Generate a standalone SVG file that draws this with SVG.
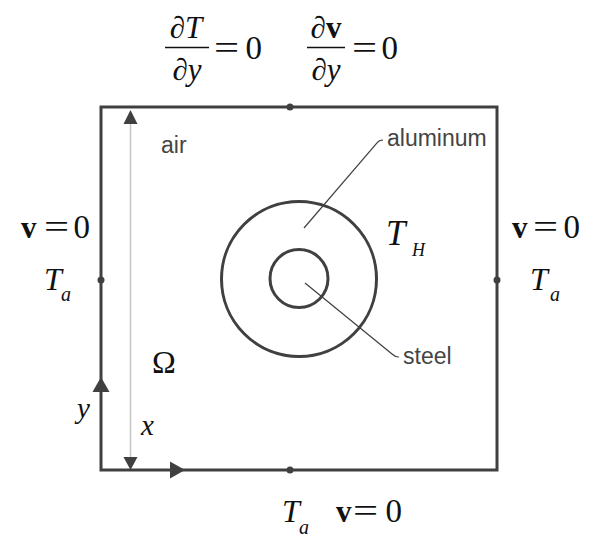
<svg xmlns="http://www.w3.org/2000/svg" width="596" height="540" viewBox="0 0 596 540">
<style>
.m{font-family:"Liberation Serif","Times New Roman",serif;fill:#111}
.i{font-style:italic}
.b{font-weight:bold}
.lbl{font-family:"Liberation Sans",Arial,sans-serif;font-size:23px;fill:#444}
.edge{fill:none;stroke:#404040;stroke-width:3}
.lead{fill:none;stroke:#404040;stroke-width:1.2}
.dot{fill:#404040}
.tri{fill:#404040}
.eq{font-family:"Liberation Serif","Times New Roman",serif;fill:#111;font-size:33px}
</style>
<rect width="596" height="540" fill="#fff"/>
<g id="domain">
<rect class="edge" x="101" y="107" width="396" height="363"/>
<circle class="dot" cx="290" cy="107" r="3.5"/>
<circle class="dot" cx="101" cy="280" r="3.5"/>
<circle class="dot" cx="497" cy="280" r="3.5"/>
<circle class="dot" cx="290" cy="470" r="3.5"/>
</g>
<g id="aluminum">
<circle class="edge" cx="299" cy="279" r="77.5" stroke-width="2.8"/>
</g>
<g id="steel">
<circle class="edge" cx="299" cy="278.5" r="29" stroke-width="2.8"/>
</g>
<g id="connectors">
<line x1="130.5" y1="118" x2="130.5" y2="460" stroke="#c8c8c8" stroke-width="1.6"/>
<polygon class="tri" points="130.5,110 123.5,124 137.5,124"/>
<polygon class="tri" points="130.5,470 123.5,457 137.5,457"/>
<polygon class="tri" points="101,377 92.5,392 109.5,392"/>
<polygon class="tri" points="185,470 170,461.5 170,478.5"/>
<path class="lead" d="M304,228 L377,143 Q379,140 383,140"/>
<path class="lead" d="M305,283 L392,354 Q395,357 399,357"/>
</g>
<g id="labels">
<text class="lbl" x="161" y="153">air</text>
<text class="lbl" x="387" y="146">aluminum</text>
<text class="lbl" x="403" y="364">steel</text>
<text class="m" x="152" y="373" font-size="32">Ω</text>
<text class="m i" x="386" y="245" font-size="35">T</text>
<text class="m i" x="412" y="256" font-size="18">H</text>
<text class="m i" x="77" y="418" font-size="29">y</text>
<text class="m i" x="141" y="435" font-size="29">x</text>
</g>
<g id="top-bc">
<text class="m" x="186" y="38" font-size="31" text-anchor="middle">∂<tspan class="i">T</tspan></text>
<line x1="165" y1="47.5" x2="209" y2="47.5" stroke="#111" stroke-width="1.5"/>
<text class="m" x="187" y="80" font-size="31" text-anchor="middle">∂<tspan class="i">y</tspan></text>
<text class="eq" transform="translate(214,59) scale(1.35,1)">=</text>
<text class="m" x="245.5" y="59" font-size="33">0</text>
<text class="m" x="326" y="38" font-size="31" text-anchor="middle">∂<tspan class="b">v</tspan></text>
<line x1="307" y1="47.5" x2="345" y2="47.5" stroke="#111" stroke-width="1.5"/>
<text class="m" x="326" y="80" font-size="31" text-anchor="middle">∂<tspan class="i">y</tspan></text>
<text class="eq" transform="translate(352,59) scale(1.35,1)">=</text>
<text class="m" x="381.5" y="59" font-size="33">0</text>
</g>
<g id="left-bc">
<text class="m b" x="21" y="238" font-size="31">v</text>
<text class="eq" transform="translate(44,238) scale(1.35,1)">=</text>
<text class="m" x="73.5" y="238" font-size="33">0</text>
<text class="m i" x="44" y="290" font-size="32">T</text>
<text class="m i" x="61" y="301" font-size="20">a</text>
</g>
<g id="right-bc">
<text class="m b" x="512" y="238" font-size="31">v</text>
<text class="eq" transform="translate(533,238) scale(1.35,1)">=</text>
<text class="m" x="563.5" y="238" font-size="33">0</text>
<text class="m i" x="530" y="290" font-size="32">T</text>
<text class="m i" x="550" y="301" font-size="20">a</text>
</g>
<g id="bottom-bc">
<text class="m i" x="282" y="522" font-size="32">T</text>
<text class="m i" x="299" y="534" font-size="20">a</text>
<text class="m b" x="336" y="522" font-size="31">v</text>
<text class="eq" transform="translate(353,522) scale(1.35,1)">=</text>
<text class="m" x="385.5" y="522" font-size="33">0</text>
</g>
</svg>
